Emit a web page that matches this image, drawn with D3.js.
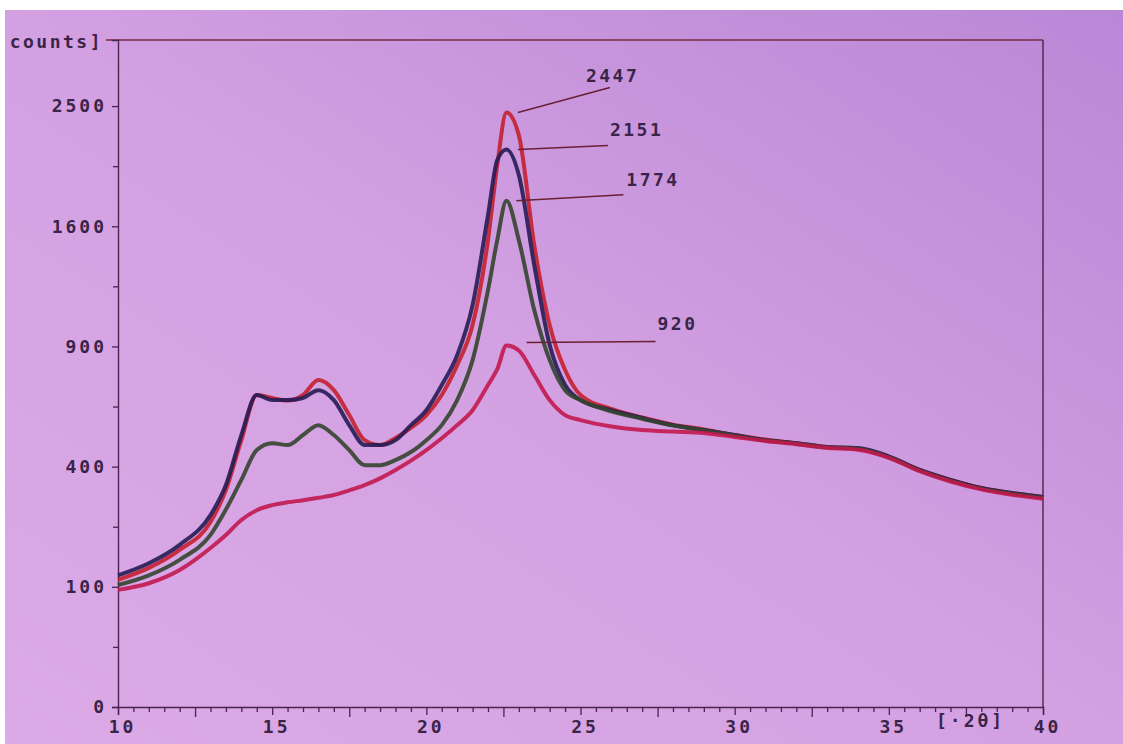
<!DOCTYPE html>
<html>
<head>
<meta charset="utf-8">
<script src="https://cdn.jsdelivr.net/npm/d3@7/dist/d3.min.js"></script>
<style>
  html, body { margin: 0; padding: 0; background: #fff; }
  svg text { font-family: "DejaVu Sans Mono", monospace; fill: #3a2448; }
</style>
</head>
<body>
<svg id="xrd" width="1123" height="744"></svg>
<script>
// diffraction angle (deg 2theta), shared by all traces
var twoTheta = [10, 11, 12, 13, 13.5, 14, 14.5, 15, 15.5, 16, 16.5, 17, 17.5, 18, 18.5, 19, 19.5, 20, 20.5, 21, 21.5, 22,
  22.3, 22.6, 23, 23.5, 24, 24.5, 25, 26, 27, 28, 29, 30, 31, 32, 33, 34, 35, 36, 37, 38, 39, 40];

// counts
var countsA = [112, 134, 171, 237, 326, 493, 674, 661, 650, 674, 740, 695, 590, 493, 475, 501, 539, 590, 674, 809, 1010, 1509,
  2033, 2447, 2264, 1477, 1010, 786, 674, 615, 580, 552, 533, 512, 495, 482, 468, 462, 432, 389, 357, 332, 317, 305];
var countsB = [120, 143, 182, 255, 341, 512, 674, 652, 652, 661, 695, 652, 550, 475, 475, 493, 550, 610, 718, 857, 1118, 1675,
  2071, 2151, 1959, 1352, 907, 718, 652, 610, 578, 550, 531, 512, 493, 482, 468, 464, 435, 389, 357, 332, 317, 305];
var countsC = [103, 120, 150, 205, 270, 357, 457, 482, 475, 512, 550, 512, 457, 405, 405, 422, 450, 493, 550, 652, 833, 1203,
  1509, 1774, 1509, 1091, 833, 695, 652, 605, 575, 548, 530, 510, 492, 480, 466, 462, 432, 387, 355, 330, 315, 303];
var countsD = [95, 106, 130, 175, 205, 242, 268, 282, 290, 296, 303, 311, 325, 341, 362, 389, 420, 457, 500, 550, 610, 718,
  790, 905, 880, 763, 652, 590, 570, 545, 531, 525, 520, 505, 490, 478, 465, 458, 430, 385, 352, 328, 312, 300];

var peakLabels = ["2447", "2151", "1774", "920"];
var peakValues = [2447, 2151, 1774, 920];

var yTicks = [0, 100, 400, 900, 1600, 2500];
var yMinor = [25, 225, 625, 1225, 2025];
var xTicks = [10, 15, 20, 25, 30, 35, 40];

var svg = d3.select("svg#xrd"),
    width = 1123, height = 744,
    plotLeft = 118, plotRight = 1043, plotTop = 40, plotBottom = 707;

// photo background
var defs = svg.append("defs");
var grad = defs.append("linearGradient").attr("id", "paper")
    .attr("x1", "0").attr("y1", "1").attr("x2", "1").attr("y2", "0");
grad.append("stop").attr("offset", "0%").attr("stop-color", "#dcaae6");
grad.append("stop").attr("offset", "50%").attr("stop-color", "#d3a0e2");
grad.append("stop").attr("offset", "100%").attr("stop-color", "#b987d6");

svg.append("rect").attr("width", width).attr("height", height).attr("fill", "#fff");
svg.append("rect").attr("x", 5).attr("y", 10).attr("width", width - 5).attr("height", height - 10)
    .attr("fill", "url(#paper)");

var x = d3.scaleLinear().domain([10, 40]).range([plotLeft, plotRight]);
var y = d3.scaleSqrt().domain([0, 3080]).range([plotBottom, plotTop]);

var ink = "#4a2450";

// frame
svg.append("line").attr("x1", 106).attr("x2", plotRight).attr("y1", plotTop).attr("y2", plotTop)
    .attr("stroke", "#7a2a40").attr("stroke-width", 1.6);
svg.append("line").attr("x1", plotRight).attr("x2", plotRight).attr("y1", plotTop).attr("y2", plotBottom)
    .attr("stroke", ink).attr("stroke-width", 1.4);

// y axis (square-root scale)
svg.append("g").attr("transform", "translate(" + plotLeft + ",0)")
    .call(d3.axisLeft(y).tickValues(yTicks).tickSize(6).tickPadding(5).tickFormat(d3.format("d")));
svg.append("g").attr("transform", "translate(" + plotLeft + ",0)")
    .call(d3.axisLeft(y).tickValues(yMinor).tickSize(5).tickFormat(""))
    .select(".domain").remove();

// x axis, minor every 0.5, long at 2.5
var xMinor = d3.range(10, 40.01, 0.5).filter(function(d) { return d % 5 !== 0; });
var xAxis = svg.append("g").attr("transform", "translate(0," + plotBottom + ")")
    .call(d3.axisBottom(x).tickValues(xTicks).tickSize(8).tickPadding(5).tickFormat(d3.format("d")));
svg.append("g").attr("transform", "translate(0," + plotBottom + ")")
    .call(d3.axisBottom(x).tickValues(xMinor).tickSize(5).tickFormat(""))
    .call(function(g) {
      g.select(".domain").remove();
      g.selectAll(".tick line").attr("y2", function(d) { return d % 2.5 === 0 ? 10 : 5; });
    });

svg.selectAll(".domain").attr("stroke", ink).attr("stroke-width", 1.4);
svg.selectAll(".tick line").attr("stroke", ink).attr("stroke-width", 1.3);
svg.selectAll(".tick text").attr("font-size", 18).attr("letter-spacing", 3)
    .attr("font-weight", "bold")
    .attr("font-family", "DejaVu Sans Mono, monospace").attr("fill", "#3a2448");
xAxis.selectAll(".tick text").attr("dx", 4);

svg.append("text").attr("x", 103).attr("y", 48).attr("text-anchor", "end")
    .attr("font-size", 18).attr("font-weight", "bold").attr("letter-spacing", 2.5).text("counts]");
svg.append("text").attr("x", 936).attr("y", 727)
    .attr("font-size", 18).attr("font-weight", "bold").attr("letter-spacing", 3).text("[\u00b72\u03b8]");

// traces
var series = [
  {values: countsA, color: "#c4202e"},
  {values: countsB, color: "#261c55"},
  {values: countsC, color: "#34452f"},
  {values: countsD, color: "#c2184f"}
];

var line = d3.line()
    .x(function(d) { return x(d[0]); })
    .y(function(d) { return y(d[1]); })
    .curve(d3.curveMonotoneX);

svg.append("g").selectAll("path")
  .data(series)
  .enter().append("path")
    .attr("d", function(s) { return line(twoTheta.map(function(t, i) { return [t, s.values[i]]; })); })
    .attr("fill", "none")
    .attr("stroke", function(s) { return s.color; })
    .attr("stroke-width", 4)
    .attr("stroke-linejoin", "round")
    .attr("opacity", 0.9);

// peak call-outs
var leaderFrom = [22.97, 22.97, 22.92, 23.25];
var leaderDx = [92, 90, 107, 129];
var leaderDy = [-25, -4, -6, -1];
var labelDx = [-24, 2, 3, 2];
var labelDy = [-5, -10, -9, -11];

var callout = svg.append("g").selectAll("g")
  .data(peakValues)
  .enter().append("g");

callout.append("line")
    .attr("x1", function(d, i) { return x(leaderFrom[i]); })
    .attr("y1", function(d) { return y(d); })
    .attr("x2", function(d, i) { return x(leaderFrom[i]) + leaderDx[i]; })
    .attr("y2", function(d, i) { return y(d) + leaderDy[i]; })
    .attr("stroke", "#6a2034").attr("stroke-width", 1.5);

callout.append("text")
    .attr("x", function(d, i) { return x(leaderFrom[i]) + leaderDx[i] + labelDx[i]; })
    .attr("y", function(d, i) { return y(d) + leaderDy[i] + labelDy[i]; })
    .attr("font-size", 18).attr("font-weight", "bold").attr("letter-spacing", 2.5)
    .text(function(d, i) { return peakLabels[i]; });
</script>
</body>
</html>
